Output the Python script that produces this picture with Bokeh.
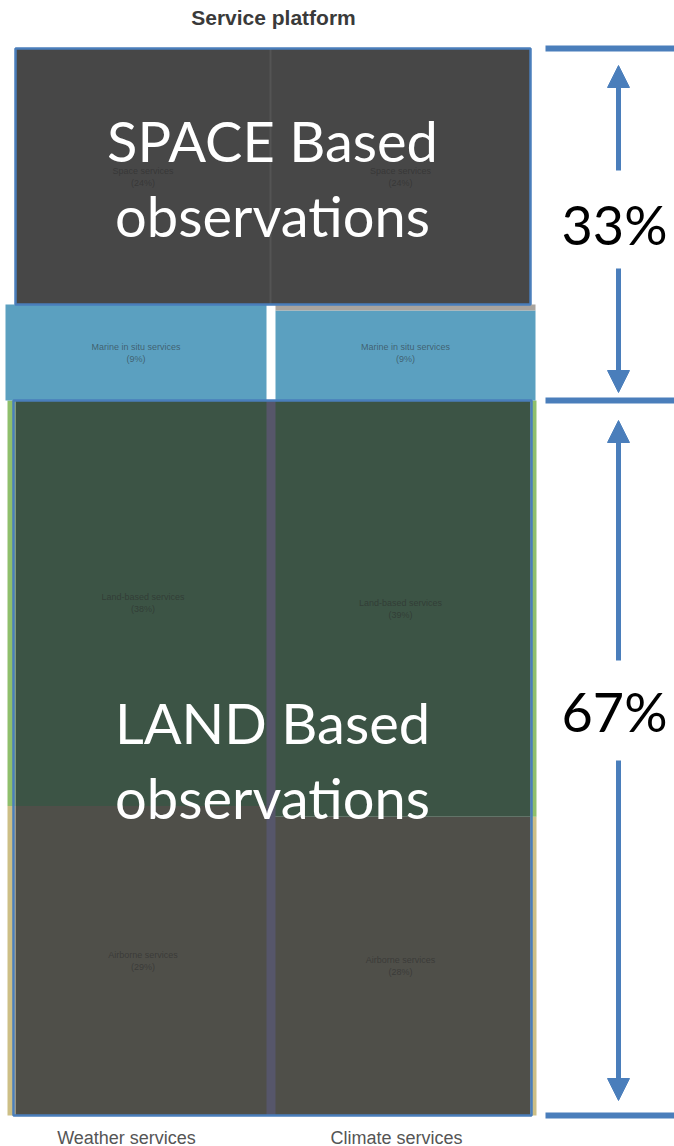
from bokeh.plotting import figure
from bokeh.models import Range1d, Arrow, NormalHead
from bokeh.core.properties import value
from bokeh.embed import file_html
from bokeh.resources import INLINE

# ---------------- data ----------------
title_text = "Service platform"
columns = ["Weather services", "Climate services"]
segments = ["Airborne services", "Land-based services", "Marine in situ services", "Space services"]
weather_pct = [29, 38, 9, 24]
climate_pct = [28, 39, 9, 24]
group_names = ["SPACE Based\nobservations", "LAND Based\nobservations"]
group_pct = [33, 67]

# ---------------- layout / style ----------------
W, H = 674, 1146
PAGE = 0
Y0 = 1115.0          # pixel y of 0 %
S = 10.67            # px per %
def pg(py):          # pixel y -> data y
    return (Y0 - py) / S

seg_colors = ["#4f4f49", "#3c5445", "#5ba0c0", "#474747"]
BLUE = "#4a7ebb"
col_span = [(15, 270), (270, 530)]
marine_span = [(5, 266), (275, 535)]
label_x = [126, 396]
BIG_X = 272
PCT_X = 614
ARROW_X = 618

p = figure(width=W, height=H, output_backend="svg", toolbar_location=None,
           x_range=Range1d(PAGE, PAGE + W), y_range=Range1d(pg(PAGE + H), pg(PAGE)),
           min_border=0, outline_line_color=None, background_fill_color="white",
           border_fill_color="white")
p.axis.visible = False
p.grid.visible = False

cols = [weather_pct, climate_pct]
stacks = []
for vals in cols:
    b, res = 0, []
    for v in vals:
        res.append((b, b + v))
        b += v
    stacks.append(res)

land_top = stacks[0][1][1]
space_bottom = stacks[0][2][1]

# outer coloured strips of the land/air block
for ci, (xl, xr) in enumerate([(7, 15), (530, 536)]):
    air_b, air_t = stacks[ci][0]
    land_b, land_t = stacks[ci][1]
    p.quad(left=[xl], right=[xr], bottom=[air_b], top=[air_t], fill_color="#cdbf86", line_color=None)
    p.quad(left=[xl], right=[xr], bottom=[land_b], top=[land_t], fill_color="#8fbf6c", line_color=None)

# column segments
for ci in range(2):
    for si, (b, t) in enumerate(stacks[ci]):
        if si == 2:
            xl, xr = marine_span[ci]
            tt = t if ci == 0 else pg(310)
        else:
            xl, xr = col_span[ci]
            tt = t
        p.quad(left=[xl], right=[xr], bottom=[b], top=[tt], fill_color=seg_colors[si], line_color=None)
# grey strip above right marine
p.quad(left=[marine_span[1][0]], right=[marine_span[1][1]], bottom=[pg(310)], top=[space_bottom],
       fill_color="#a9a49e", line_color=None)

# middle divider in land/air block
p.quad(left=[266], right=[275], bottom=[0], top=[land_top], fill_color="#56566a", line_color=None)
# faint divider in space block
p.segment(x0=[270], y0=[space_bottom], x1=[270], y1=[100], line_color="#545454", line_width=2)

# blue borders
p.quad(left=[15], right=[530], bottom=[space_bottom], top=[100], fill_color=None,
       line_color=BLUE, line_width=2.5)
p.quad(left=[13], right=[531], bottom=[0], top=[land_top], fill_color=None,
       line_color=BLUE, line_width=2.5)

# tiny segment labels
for ci in range(2):
    xs, ys, ts = [], [], []
    for si, (b, t) in enumerate(stacks[ci]):
        xl, xr = (marine_span if si == 2 else col_span)[ci]
        xs.append((xl + xr) / 2)
        ys.append((b + t) / 2)
        ts.append(f"{segments[si]}\n({cols[ci][si]}%)")
    p.text(x=xs, y=ys, text=ts, text_align="center", text_baseline="middle",
           text_font=value("Liberation Sans"), text_font_size="9px",
           text_color="#2a2a2a", text_alpha=0.55)

# big group texts
group_centers = [(space_bottom + 100) / 2, land_top / 2]
for gi, name in enumerate(group_names):
    l1, l2 = name.split("\n")
    cy = group_centers[gi]
    p.text(x=[BIG_X], y=[cy + 36 / S], text=[l1], text_align="center", text_baseline="middle",
           text_font=value("Lato"), text_font_size="56px", text_color="white")
    p.text(x=[BIG_X], y=[cy - 39 / S], text=[l2], text_align="center", text_baseline="middle",
           text_font=value("Lato"), text_font_size="56px", text_color="white")

# right-hand brackets
bounds = [100, land_top, 0]
for yb in bounds:
    p.segment(x0=[545], y0=[yb], x1=[680], y1=[yb], line_color=BLUE, line_width=6)

# group percentages and arrows
pct_mid = [(100 + land_top) / 2, land_top / 2 + 47 / S]
arrow_specs = [
    (pg(170), pg(65)), (pg(268), pg(392)),
    (pg(660), pg(420)), (pg(760), pg(1100)),
]
for ys, ye in arrow_specs:
    p.add_layout(Arrow(end=NormalHead(size=22, fill_color=BLUE, line_color=BLUE),
                       x_start=ARROW_X, y_start=ys, x_end=ARROW_X, y_end=ye,
                       line_color=BLUE, line_width=5))
p.text(x=[PCT_X, PCT_X], y=pct_mid, text=[f"{v}%" for v in group_pct], text_align="center",
       text_baseline="middle", text_font=value("Lato"), text_font_size="54px", text_color="black")

# title and column labels
p.text(x=[273], y=[pg(17)], text=[title_text], text_align="center", text_baseline="middle",
       text_font=value("Liberation Sans"), text_font_style="bold", text_font_size="21px",
       text_color="#3a3a3a")
p.text(x=label_x, y=[pg(1137)] * 2, text=columns, text_align="center", text_baseline="middle",
       text_font=value("Liberation Sans"), text_font_size="18px", text_color="#555555")

open("out.html", "w").write(file_html(p, INLINE))
